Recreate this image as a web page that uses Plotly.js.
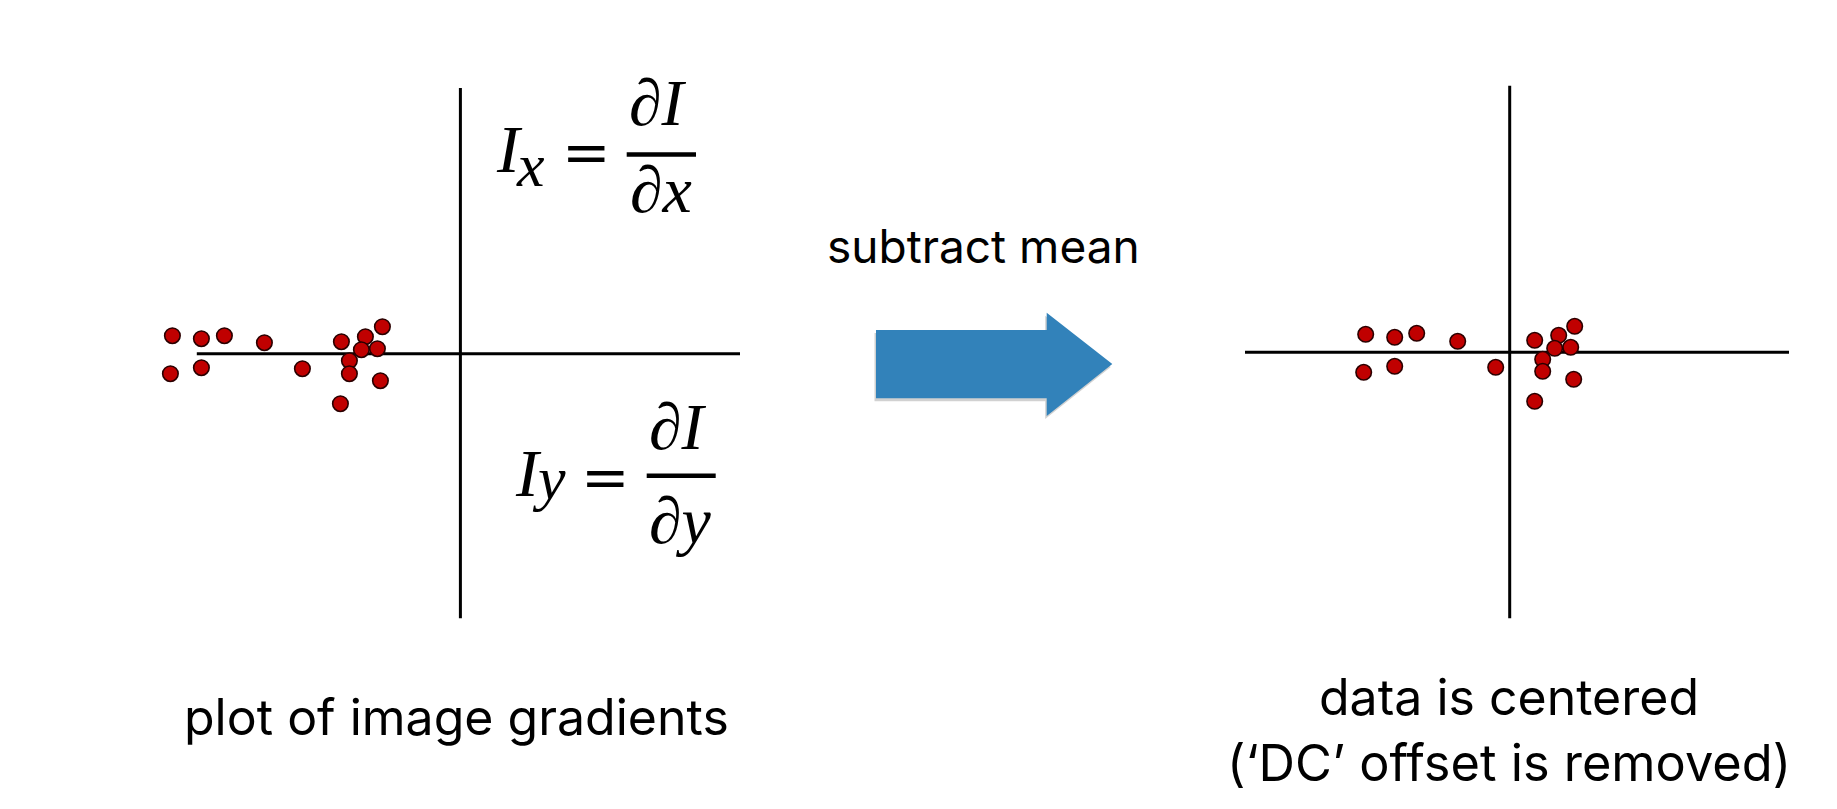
<!DOCTYPE html>
<html>
<head>
<meta charset="utf-8">
<script src="https://cdn.plot.ly/plotly-3.0.1.min.js"></script>
<style>html,body{margin:0;padding:0;background:#fff;}#chart{width:1837px;height:809px;}</style>
</head>
<body>
<div id="chart"></div>
<script>
// Raw image gradients (left panel), units: arbitrary gradient units
const gradIx = [-28.8, -25.9, -23.6, -19.6, -29.0, -25.9, -15.8, -11.9, -9.5, -7.8, -9.9, -8.3, -11.1, -11.1, -8.0, -12.0];
const gradIy = [1.8, 1.5, 1.8, 1.1, -2.0, -1.4, -1.5, 1.2, 1.7, 2.7, 0.4, 0.5, -0.7, -2.0, -2.7, -5.0];
// Mean-subtracted gradients (right panel)
const centIx = [-14.4, -11.5, -9.3, -5.2, -14.6, -11.5, -1.4, 2.5, 4.9, 6.5, 4.5, 6.1, 3.3, 3.3, 6.4, 2.5];
const centIy = [1.8, 1.5, 1.9, 1.1, -2.0, -1.4, -1.5, 1.2, 1.7, 2.6, 0.4, 0.5, -0.7, -1.9, -2.7, -4.9];

// Extent of the drawn axis cross in each panel (data units)
const leftAxisX = [-26.36, 27.96];
const leftAxisY = [-26.49, 26.58];
const rightAxisX = [-26.47, 27.93];
const rightAxisY = [-26.63, 26.68];

// Text labels
const leftCaption = 'plot of image gradients';
const rightCaption1 = 'data is centered';
const rightCaption2 = '(\u2018DC\u2019 offset is removed)';
const arrowLabel = 'subtract mean';

const W = 1837, H = 809;
const fx = p => p / W;
const fy = p => 1 - p / H;

const markerStyle = {size: 15.5, color: '#c00000', line: {color: '#2a0000', width: 1.6}};

const traces = [
  {x: gradIx, y: gradIy, xaxis: 'x', yaxis: 'y', type: 'scatter', mode: 'markers', marker: markerStyle, cliponaxis: false, hoverinfo: 'skip'},
  {x: centIx, y: centIy, xaxis: 'x2', yaxis: 'y2', type: 'scatter', mode: 'markers', marker: markerStyle, cliponaxis: false, hoverinfo: 'skip'}
];

function ax(domain, range) {
  return {domain: domain, range: range, showgrid: false, showticklabels: false, ticks: '',
          showline: false, zeroline: false, fixedrange: true};
}

const SANS = 'Inter, "Liberation Sans", Arial, sans-serif';
const SERIF = '"Liberation Serif", "DejaVu Serif", serif';
const EQ = '"DejaVu Serif", "Liberation Serif", serif';

function ann(text, xp, yp, size, family) {
  return {xref: 'paper', yref: 'paper', x: fx(xp), y: fy(yp), xanchor: 'center', yanchor: 'middle',
          showarrow: false, text: text, font: {family: family, size: size, color: '#000'}};
}

const annotations = [
  ann(arrowLabel, 984, 246, 46, SANS),
  ann(leftCaption, 456, 717, 50, SANS),
  ann(rightCaption1, 1509, 697, 50, SANS),
  ann(rightCaption2, 1509, 762, 50.5, SANS),
  // I_x = dI/dx
  ann('<i>I</i>', 509, 149.4, 68, SERIF),
  ann('<i>x</i>', 530, 165, 62, SERIF),
  ann('=', 586, 152, 58, EQ),
  ann('<i>\u2202I</i>', 658, 102.7, 66, SERIF),
  ann('<i>\u2202x</i>', 661, 189.7, 66, SERIF),
  // I_y = dI/dy
  ann('<i>I</i>', 528, 472.7, 68, SERIF),
  ann('<i>y</i>', 549, 478, 62, SERIF),
  ann('=', 605, 477, 58, EQ),
  ann('<i>\u2202I</i>', 677.5, 426, 66, SERIF),
  ann('<i>\u2202y</i>', 680, 520.7, 66, SERIF)
];

function arrowPath(dx, dy) {
  const pts = [[876,330],[1046.7,330],[1046.7,312.7],[1112.3,364],[1046.7,416],[1046.7,398.3],[876,398.3]];
  return 'M ' + pts.map(p => fx(p[0]+dx).toFixed(5) + ' ' + fy(p[1]+dy).toFixed(5)).join(' L ') + ' Z';
}

function axisCross(xr, yr, xa, ya) {
  const ln = {color: '#000', width: 3};
  return [
    {type: 'line', xref: xa, yref: ya, x0: xr[0], x1: xr[1], y0: 0, y1: 0, line: ln, layer: 'below'},
    {type: 'line', xref: xa, yref: ya, x0: 0, x1: 0, y0: yr[0], y1: yr[1], line: ln, layer: 'below'}
  ];
}

const shapes = [].concat(
  axisCross(leftAxisX, leftAxisY, 'x', 'y'),
  axisCross(rightAxisX, rightAxisY, 'x2', 'y2'),
  [
    {type: 'line', xref: 'paper', yref: 'paper', x0: fx(626.7), x1: fx(696), y0: fy(154.5), y1: fy(154.5), line: {color: '#000', width: 4.5}},
    {type: 'line', xref: 'paper', yref: 'paper', x0: fx(646.7), x1: fx(715.7), y0: fy(475.7), y1: fy(475.7), line: {color: '#000', width: 4.5}},
    {type: 'path', xref: 'paper', yref: 'paper', path: arrowPath(-1.5, 3), fillcolor: 'rgba(0,0,0,0.18)', line: {width: 0}},
    {type: 'path', xref: 'paper', yref: 'paper', path: arrowPath(0, 0), fillcolor: '#3282ba', line: {width: 0}}
  ]
);

// Left panel plotting area is widened to the left so outlying points stay visible
const layout = {
  width: W, height: H,
  margin: {l: 0, r: 0, t: 0, b: 0},
  paper_bgcolor: '#fff', plot_bgcolor: 'rgba(0,0,0,0)',
  showlegend: false,
  xaxis: Object.assign(ax([fx(140.4), fx(740)], [-32, 27.96]), {anchor: 'y'}),
  yaxis: Object.assign(ax([fy(618.6), fy(87.9)], leftAxisY), {anchor: 'x'}),
  xaxis2: Object.assign(ax([fx(1245), fx(1789)], rightAxisX), {anchor: 'y2'}),
  yaxis2: Object.assign(ax([fy(618.6), fy(85.5)], rightAxisY), {anchor: 'x2'}),
  annotations: annotations,
  shapes: shapes
};

Plotly.newPlot('chart', traces, layout, {displayModeBar: false, staticPlot: true});
</script>
</body>
</html>
